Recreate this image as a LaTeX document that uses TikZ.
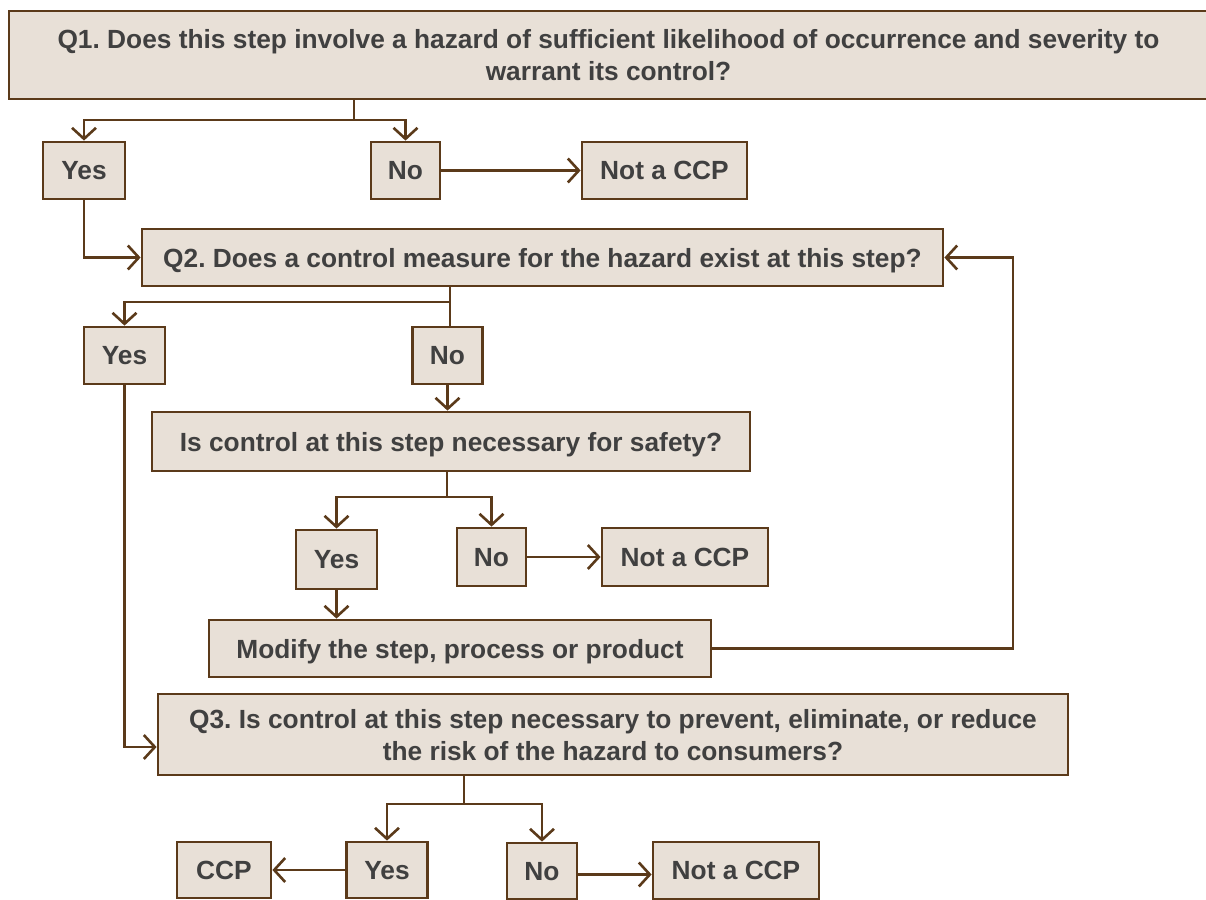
\documentclass[tikz,border=0pt]{standalone}
\usepackage{fontspec}
\setmainfont{Liberation Sans}
\usetikzlibrary{arrows.meta,calc}
\definecolor{boxfill}{HTML}{E8E0D7}
\definecolor{boxline}{HTML}{5B3A1A}
\definecolor{txt}{HTML}{404040}
\tikzset{
  box/.style={draw=boxline, fill=boxfill, line width=2.8pt, inner sep=0pt,
    align=center, text=txt, text depth=0pt,
    font=\fontsize{26.3}{32}\selectfont\bfseries\frenchspacing},
  conn/.style={draw=boxline, line width=2.6pt},
  arr/.style={conn, -{Straight Barb[length=11pt,width=24pt,line width=2.6pt]}},
}
\begin{document}
\begin{tikzpicture}[x=1pt,y=-1pt]
\useasboundingbox (0,0) rectangle (1206,899);
\begin{scope}
\clip (0,0) rectangle (1206,899);
% row 1
\node[box, minimum width=1199pt, minimum height=88pt] (q1) at (608.5,55)
  {Q1. Does this step involve a hazard of sufficient likelihood of occurrence and severity to\\warrant its control?};
\node[box, minimum width=82pt, minimum height=57pt] (yes1) at (84,170.5) {Yes};
\node[box, minimum width=69pt, minimum height=57pt] (no1) at (405.5,170.5) {No};
\node[box, minimum width=165pt, minimum height=57pt] (nc1) at (664.5,170.5) {Not a CCP};
% Q2
\node[box, minimum width=801pt, minimum height=57pt] (q2) at (542.5,257.5)
  {Q2. Does a control measure for the hazard exist at this step?};
\node[box, minimum width=81pt, minimum height=57pt] (yes2) at (124.5,355.5) {Yes};
\node[box, minimum width=70pt, minimum height=57pt] (no2) at (447.5,355.5) {No};
% safety
\node[box, minimum width=598pt, minimum height=59pt] (s) at (451,441.5)
  {Is control at this step necessary for safety?};
\node[box, minimum width=81pt, minimum height=59pt] (yes3) at (336.5,559.5) {Yes};
\node[box, minimum width=69pt, minimum height=58pt] (no3) at (491.5,557) {No};
\node[box, minimum width=166pt, minimum height=58pt] (nc2) at (685,557) {Not a CCP};
\node[box, minimum width=502pt, minimum height=57pt] (mod) at (460,648.5)
  {Modify the step, process or product};
% Q3
\node[box, minimum width=910pt, minimum height=81pt] (q3) at (613,734.5)
  {Q3. Is control at this step necessary to prevent, eliminate, or reduce\\the risk of the hazard to consumers?};
\node[box, minimum width=94pt, minimum height=56pt] (ccp) at (224,870) {CCP};
\node[box, minimum width=81pt, minimum height=56pt] (yes4) at (387,870) {Yes};
\node[box, minimum width=70pt, minimum height=56pt] (no4) at (542,871) {No};
\node[box, minimum width=166pt, minimum height=57pt] (nc3) at (736,870.5) {Not a CCP};

% fork coordinates
\coordinate (f1) at (354,120);
\coordinate (f2) at (450,302);
\coordinate (f3) at (447,497);
\coordinate (f4) at (464,804);
\coordinate (loop) at (1013,648.5);
\coordinate (q3in) at ([yshift=-12.5pt]q3.west);
\coordinate (no4out) at ([yshift=-3.5pt]no4.east);

% Q1 connectors
\draw[conn] (q1.south -| f1) -- (f1);
\draw[arr] (f1) -| (yes1.north);
\draw[arr] (f1) -| (no1.north);
\draw[arr] (no1.east) -- (nc1.west);
\draw[arr] (yes1.south) |- (q2.west);
% Q2 connectors
\draw[conn] (q2.south -| f2) -- (no2.north -| f2);
\draw[arr] (f2) -| (yes2.north);
\draw[arr] (no2.south) -- (s.north -| no2.south);
% safety connectors
\draw[conn] (s.south -| f3) -- (f3);
\draw[arr] (f3) -| (yes3.north);
\draw[arr] (f3) -| (no3.north);
\draw[arr] (no3.east) -- (nc2.west);
\draw[arr] (yes3.south) -- (mod.north -| yes3.south);
% loop back
\draw[arr] (mod.east) -- (loop) |- (q2.east);
% Yes2 to Q3
\draw[arr] (yes2.south) |- (q3in);
% Q3 connectors
\draw[conn] (q3.south -| f4) -- (f4);
\draw[arr] (f4) -| (yes4.north);
\draw[arr] (f4) -| (no4.north);
\draw[arr] (yes4.west) -- (ccp.east);
\draw[arr] (no4out) -- (nc3.west |- no4out);
\end{scope}
\end{tikzpicture}
\end{document}
